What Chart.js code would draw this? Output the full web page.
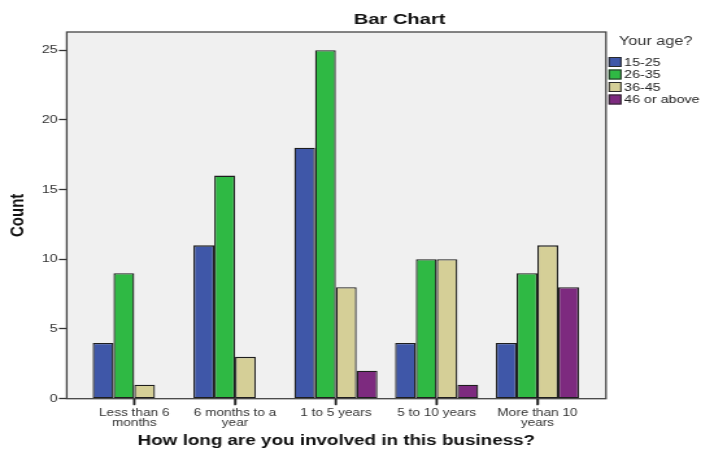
<!DOCTYPE html>
<html>
<head>
<meta charset="utf-8">
<script src="https://cdn.jsdelivr.net/npm/chart.js@4/dist/chart.umd.min.js"></script>
<style>
  html, body { margin: 0; padding: 0; background: #fff; overflow: hidden; }
  /* the original picture is stretched sideways, so the canvas is too */
  #wrap { width: 540px; height: 451px; transform: scaleX(1.2981); transform-origin: 0 0; }
</style>
</head>
<body>
<div id="wrap"><canvas id="myChart"></canvas></div>
<script>
// categories (x axis)
var categories = ['Less than 6 months', '6 months to a year', '1 to 5 years', '5 to 10 years', 'More than 10 years'];
var tickLines = [['Less than 6', 'months'], ['6 months to a', 'year'], '1 to 5 years', '5 to 10 years', ['More than 10', 'years']];

// age groups (legend)
var ageGroups = ['15-25', '26-35', '36-45', '46 or above'];
var age15to25 = [4, 11, 18, 4, 4];
var age26to35 = [9, 16, 25, 10, 9];
var age36to45 = [1, 3, 8, 10, 11];
var age46plus = [0, 0, 2, 1, 8];

var countTicks = [0, 5, 10, 15, 20, 25];

var colors = ['#3f57a8', '#2fb944', '#d5cf97', '#7d2a7f'];
var font = "'Liberation Sans', Arial, sans-serif";

var series = [age15to25, age26to35, age36to45, age46plus];

var datasets = [];
series.forEach(function (values, k) {
  datasets.push({
    label: ageGroups[k],
    data: values.map(function (v, i) { return { x: i, y: v }; }),
    backgroundColor: colors[k],
    borderColor: '#1e1e1e',
    borderWidth: 1.3,
    borderSkipped: false,
    categoryPercentage: 0.825,
    barPercentage: 1
  });
});

// grey plot box, frame, tick marks, title and legend like the SPSS output
var spssLook = {
  id: 'spssLook',
  beforeDraw: function (chart) {
    var ctx = chart.ctx, a = chart.chartArea;
    ctx.save();
    ctx.fillStyle = '#f0f0f0';
    ctx.fillRect(a.left, a.top, a.right - a.left, a.bottom - a.top);
    ctx.restore();
  },
  afterDraw: function (chart) {
    var ctx = chart.ctx, a = chart.chartArea;
    ctx.save();
    ctx.strokeStyle = '#444';
    ctx.lineWidth = 1.3;
    ctx.strokeRect(a.left, a.top, a.right - a.left, a.bottom - a.top);

    // tick marks under the category axis
    var xs = chart.scales.x;
    ctx.strokeStyle = '#222';
    ctx.lineWidth = 1.5;
    for (var i = 0; i < xs.ticks.length; i++) {
      var px = xs.getPixelForValue(xs.ticks[i].value);
      ctx.beginPath();
      ctx.moveTo(px, a.bottom);
      ctx.lineTo(px, a.bottom + 6.5);
      ctx.stroke();
    }

    // title
    ctx.fillStyle = '#111';
    ctx.font = 'bold 15.5px ' + font;
    ctx.textAlign = 'center';
    ctx.textBaseline = 'middle';
    ctx.fillText('Bar Chart', chart.width * 0.57, 20);

    // legend
    var lx = a.right + 2;
    ctx.textAlign = 'left';
    ctx.fillStyle = '#333';
    ctx.font = '12.5px ' + font;
    ctx.fillText('Your age?', lx + 8, 42);
    ctx.font = '11px ' + font;
    chart.data.datasets.forEach(function (ds, k) {
      var y = 62 + k * 12.5;
      ctx.fillStyle = ds.backgroundColor;
      ctx.fillRect(lx, y - 5, 10, 10);
      ctx.strokeStyle = '#2a2a2a';
      ctx.lineWidth = 1;
      ctx.strokeRect(lx + 0.5, y - 4.5, 9, 9);
      ctx.fillStyle = '#222';
      ctx.fillText(ds.label, lx + 12, y + 0.5);
    });
    ctx.restore();
  }
};

new Chart(document.getElementById('myChart'), {
  type: 'bar',
  data: { datasets: datasets },
  plugins: [spssLook],
  options: {
    responsive: true,
    maintainAspectRatio: false,
    animation: false,
    layout: { padding: { left: 0, right: 73.2, top: 32, bottom: 0 } },
    plugins: {
      legend: { display: false },
      title: { display: false },
      tooltip: { enabled: false }
    },
    scales: {
      x: {
        type: 'linear',
        offset: false,
        min: -0.67,
        max: 4.68,
        afterBuildTicks: function (scale) {
          scale.ticks = categories.map(function (c, i) { return { value: i }; });
        },
        afterFit: function (scale) { scale.height = 52.3; },
        grid: { offset: false, drawOnChartArea: false, drawTicks: true, tickLength: 6, tickColor: '#222', tickWidth: 1.5 },
        border: { display: false },
        ticks: {
          autoSkip: false,
          maxRotation: 0,
          padding: 4,
          color: '#333',
          font: { family: font, size: 10.5, lineHeight: 0.9 },
          callback: function (value) { return tickLines[value]; }
        },
        title: {
          display: true,
          text: 'How long are you involved in this business?',
          color: '#111',
          font: { family: font, size: 14.5, weight: 'bold', lineHeight: 1.2 },
          padding: { top: 0, bottom: 1 }
        }
      },
      y: {
        min: 0,
        max: 26.3,
        afterBuildTicks: function (scale) {
          scale.ticks = countTicks.map(function (v) { return { value: v }; });
        },
        afterFit: function (scale) { scale.width = 51.4; },
        grid: { drawOnChartArea: false, drawTicks: true, tickLength: 6, tickColor: '#333', tickWidth: 1.3 },
        border: { display: false },
        ticks: {
          padding: 1,
          color: '#333',
          font: { family: font, size: 11 }
        },
        title: {
          display: true,
          text: 'Count',
          color: '#111',
          font: { family: font, size: 15, weight: 'bold', lineHeight: 1.2 },
          padding: { top: 5, bottom: 0 }
        }
      }
    }
  }
});
</script>
</body>
</html>
